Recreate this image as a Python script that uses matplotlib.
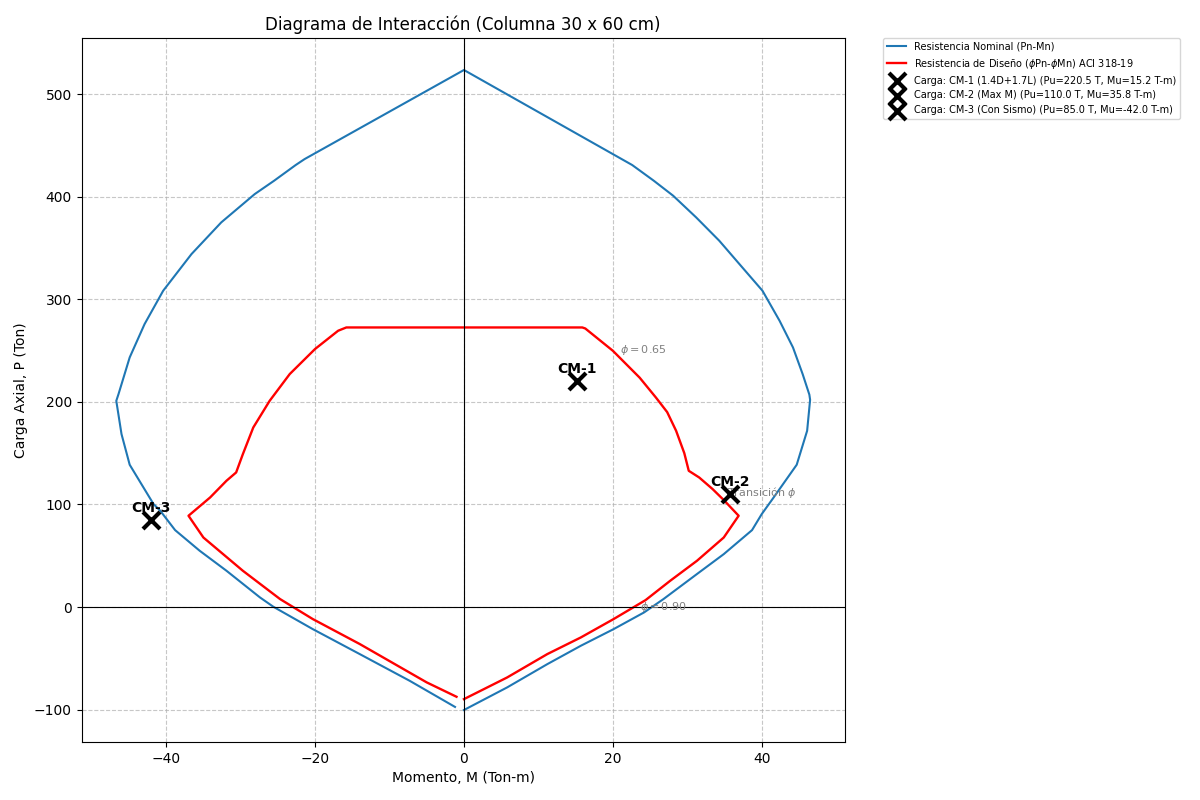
import numpy as np
import matplotlib.pyplot as plt

# Curva nominal (Pn-Mn): M en Ton-m, P en Ton
m_nom = [0.0, 5.8, 11.2, 15.7, 20.1, 24.2, 26.8, 31.3, 34.9, 38.7, 40.0, 41.6, 44.7, 46.1, 46.5,
         46.4, 45.5, 44.2, 42.4, 40.1, 37.0, 34.3, 31.2, 28.1, 25.5, 22.6, 0.0,
         -21.4, -22.6, -25.5, -28.1, -32.6, -36.6, -40.4, -42.9, -44.9, -46.4, -46.7,
         -46.0, -44.9, -41.7, -40.8, -38.8, -35.5, -31.9, -27.4, -25.6, -20.3, -14.0, -7.3, -1.2]
p_nom = [-100.3, -78.3, -55.6, -37.7, -21.5, -5.2, 7.8, 32.2, 51.6, 75.0, 90.6, 106.8, 138.7, 171.8, 202.0,
         207.0, 227.0, 253.0, 279.0, 308.3, 334.3, 357.0, 379.7, 400.9, 415.5, 430.8, 523.4,
         436.6, 430.8, 415.5, 402.5, 374.9, 344.0, 308.3, 275.8, 243.3, 207.6, 201.0,
         168.6, 138.7, 100.4, 93.9, 75.0, 54.9, 35.4, 9.4, 0.3, -21.5, -45.8, -71.8, -97.3]

# Curva de diseno (phiPn-phiMn)
m_dis = [0.0, 5.8, 11.2, 15.7, 20.1, 24.4, 27.7, 31.3, 34.9, 36.9, 35.0, 33.4, 31.6, 30.2,
         29.6, 28.5, 27.3, 25.8, 23.6, 20.0, 16.3, 15.9,
         -15.8, -16.9, -20.0, -23.4, -26.1, -28.3, -29.7, -30.6,
         -31.9, -34.1, -37.0, -35.0, -29.7, -24.7, -20.3, -14.0, -5.0, -1.0]
p_dis = [-89.7, -68.6, -45.8, -29.6, -11.7, 6.8, 25.6, 45.1, 67.8, 89.0, 103.6, 115.0, 126.3, 132.8,
         150.0, 171.8, 190.0, 204.1, 223.6, 249.8, 271.5, 272.5,
         272.5, 269.3, 251.5, 227.1, 201.0, 175.0, 149.0, 131.2,
         123.1, 106.8, 89.0, 67.8, 35.4, 7.8, -11.7, -36.0, -73.4, -87.4]

# Cargas
cargas = ['CM-1', 'CM-2', 'CM-3']
desc = ['1.4D+1.7L', 'Max M', 'Con Sismo']
pu = [220.5, 110.0, 85.0]
mu = [15.2, 35.8, -42.0]

fig = plt.figure(figsize=(12, 8), dpi=100)
fig.subplots_adjust(left=0.068, right=0.704, top=0.9525, bottom=0.0725)

plt.plot(m_nom, p_nom, color='#1f77b4', linewidth=1.5, label='Resistencia Nominal (Pn-Mn)')
plt.plot(m_dis, p_dis, color='red', linewidth=1.7,
         label='Resistencia de Diseño ($\\phi$Pn-$\\phi$Mn) ACI 318-19')

for nombre, d, p, m in zip(cargas, desc, pu, mu):
    plt.scatter(m, p, marker='x', s=150, linewidths=3, color='black', zorder=5,
                label=f'Carga: {nombre} ({d}) (Pu={p:.1f} T, Mu={m:.1f} T-m)')
    plt.text(m, p + 5, nombre, ha='center', va='bottom', fontweight='bold', fontsize=10)

plt.text(21, 251, '$\\phi = 0.65$', color='gray', fontsize=8, va='center')
plt.text(35.3, 111.5, 'Transición $\\phi$', color='gray', fontsize=8, va='center')
plt.text(23.6, 0, '$\\phi = 0.90$', color='gray', fontsize=8, va='center')

plt.axhline(0, color='black', linewidth=0.8)
plt.axvline(0, color='black', linewidth=0.8)
plt.grid(True, linestyle='--', alpha=0.7)

plt.title('Diagrama de Interacción (Columna 30 x 60 cm)', fontsize=12)
plt.xlabel('Momento, M (Ton-m)')
plt.ylabel('Carga Axial, P (Ton)')
plt.legend(loc='upper left', bbox_to_anchor=(1.05, 1), borderaxespad=0, fontsize=7)

plt.savefig('out.png', dpi=100)
